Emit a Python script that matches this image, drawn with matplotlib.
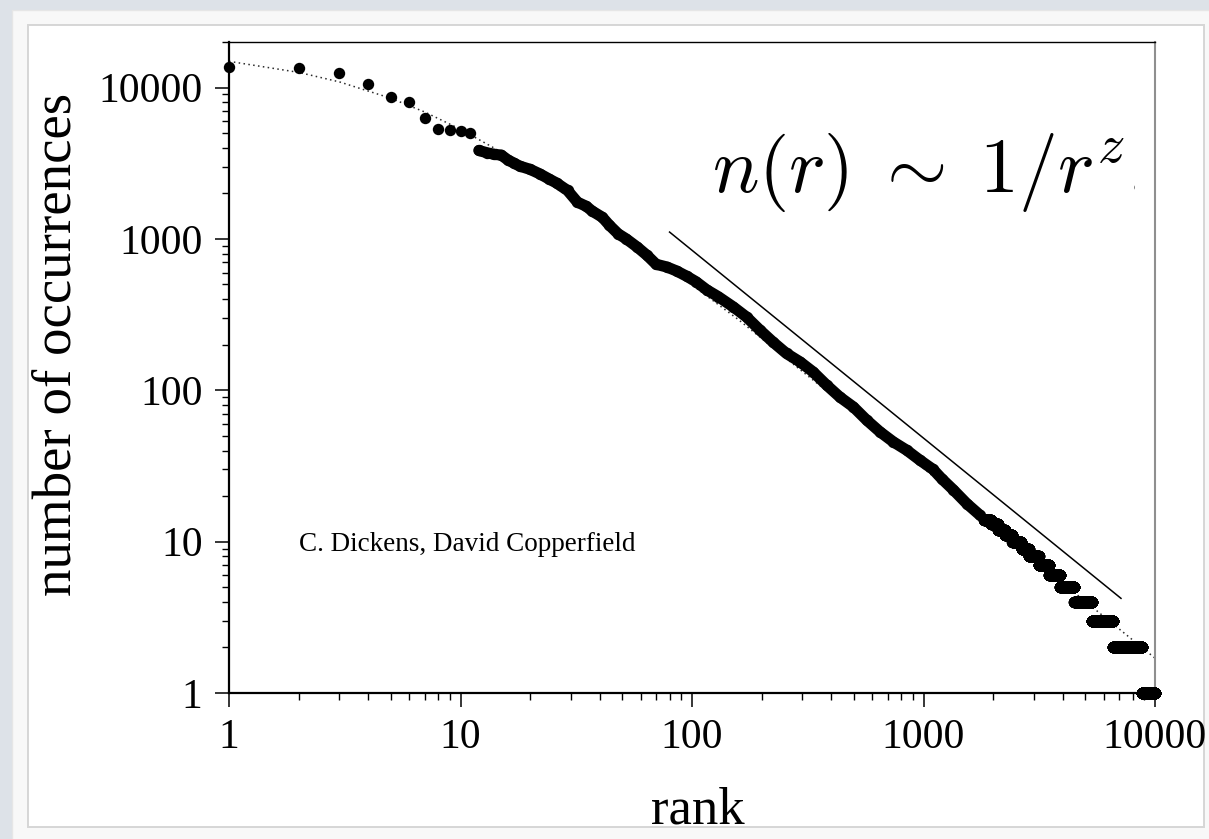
import numpy as np
import matplotlib
matplotlib.use("Agg")
import matplotlib.pyplot as plt
from matplotlib.patches import Rectangle
from matplotlib.transforms import Bbox
from matplotlib.ticker import FixedLocator, FixedFormatter, NullFormatter

# --- word frequencies by rank, C. Dickens, "David Copperfield" ---
# most frequent words, one entry per rank
head_ranks = [1, 2, 3, 4, 5, 6, 7, 8, 9, 10, 11]
head_counts = [13700, 13500, 12400, 10600, 8700, 8000, 6300, 5350, 5250, 5200, 4990]

# middle of the distribution, sampled along the rank axis
body_ranks = [12, 13, 14, 15, 16, 17, 18, 20, 22, 24, 26, 29, 32, 35, 37, 41, 44,
              48, 52, 58, 64, 70, 78, 86, 95, 104, 116, 130, 151, 172, 197, 224,
              256, 293, 334, 382, 436, 498, 569, 649, 741, 846, 966, 1100, 1200,
              1345, 1540, 1750]
body_counts = [3840, 3710, 3620, 3580, 3330, 3170, 3030, 2880, 2690, 2500, 2340,
               2090, 1750, 1640, 1530, 1390, 1230, 1080, 1000, 883, 778, 680, 652,
               613, 566, 522, 460, 415, 355, 305, 249, 208, 175, 154, 132, 108, 90,
               77.6, 63.4, 53.1, 45.6, 40.2, 34.5, 30, 26, 22, 17.8, 15]

# rare words: all words with the same count occupy a run of consecutive ranks
tail_counts = [14, 13, 12, 11, 10, 9, 8, 7, 6, 5, 4, 3, 2, 1]
tail_first_rank = [1830, 1960, 2100, 2251, 2421, 2651, 2851, 3146, 3491, 3896,
                   4486, 5341, 6601, 8771]
last_rank = 10000

# smooth fitted curve (dotted)
fit_ranks = [1, 2, 3, 5, 7, 10, 15, 20, 30, 50, 100, 160, 300, 1000, 3000, 10000]
fit_counts = [14900, 12600, 10900, 8500, 6900, 5300, 3750, 2850, 1850, 1050, 497,
              290, 133, 30.5, 7.6, 1.7]

# reference power law n(r) ~ 1/r^z
guide_ranks = [80, 7130]
guide_counts = [1110, 4.22]

decades = [1, 10, 100, 1000, 10000]
decade_labels = ["1", "10", "100", "1000", "10000"]

# ------------------------------------------------------------------
W, H = 1209, 839
fig = plt.figure(figsize=(W / 100, H / 100), dpi=100)
fig.patch.set_facecolor("#dde2e8")

def px_rect(x0, y0, x1, y1, **kw):
    r = Rectangle((x0 / W, 1 - y1 / H), (x1 - x0) / W, (y1 - y0) / H,
                  transform=fig.transFigure, zorder=-10, **kw)
    fig.patches.append(r)

px_rect(12, 10, W + 5, H + 5, facecolor="#f8f8f8", edgecolor="#e6e6e6", lw=1.0)
px_rect(28, 25, 1204, 827, facecolor="white", edgecolor="#d6d6d6", lw=1.4)

ax = fig.add_axes([229 / W, 1 - 693 / H, (1155 - 229) / W, (693 - 42) / H])
ax.set_facecolor("white")
ax.set_xscale("log")
ax.set_yscale("log")
ax.set_xlim(1, 10000)
ax.set_ylim(1, 20000)

serif = ["Liberation Serif", "DejaVu Serif"]

# fitted curve
ax.plot(fit_ranks, fit_counts, linestyle=(0, (1, 2.2)), color="#2a2a2a", lw=1.1,
        zorder=2)

# guide line
ax.plot(guide_ranks, guide_counts, color="black", lw=1.1, zorder=2)

ms = 8.2
# head points
ax.plot(head_ranks, head_counts, "o", ms=ms, color="black", mew=0, zorder=3,
        clip_on=False)
# body: samples joined into a continuous band of the marker width
ax.plot(body_ranks, body_counts, "-", lw=ms * 0.98, color="black",
        solid_capstyle="round", solid_joinstyle="round", zorder=3)
ax.plot(body_ranks, body_counts, "o", ms=ms, color="black", mew=0, zorder=3)
# tail runs
ends = tail_first_rank[1:] + [last_rank + 1]
for c, a, b in zip(tail_counts, tail_first_rank, ends):
    r = np.arange(a, b)
    ax.plot(r, np.full(r.size, c), "o", ms=ms, color="black", mew=0, zorder=3,
            clip_on=False)

# axes styling
for side in ("left", "bottom"):
    ax.spines[side].set_linewidth(1.6)
    ax.spines[side].set_color("black")
ax.spines["top"].set_linewidth(1.0)
ax.spines["top"].set_color("black")
ax.spines["right"].set_linewidth(1.5)
ax.spines["right"].set_color("#8f8f8f")

minor = [m * d for d in [1, 10, 100, 1000] for m in range(2, 10)]
ax.xaxis.set_major_locator(FixedLocator(decades))
ax.xaxis.set_major_formatter(FixedFormatter(decade_labels))
ax.xaxis.set_minor_locator(FixedLocator(minor))
ax.xaxis.set_minor_formatter(NullFormatter())
ax.yaxis.set_major_locator(FixedLocator(decades))
ax.yaxis.set_major_formatter(FixedFormatter(decade_labels))
ax.yaxis.set_minor_locator(FixedLocator(minor + [20000]))
ax.yaxis.set_minor_formatter(NullFormatter())

ax.tick_params(which="major", direction="out", length=10, width=1.1,
               labelsize=30, pad=8, colors="black")
ax.tick_params(which="minor", direction="out", length=5, width=1.0)
ax.tick_params(axis="y", which="major", pad=9)
for lbl in ax.get_xticklabels() + ax.get_yticklabels():
    lbl.set_fontfamily(serif)

# labels
fig.text(698 / W, 1 - 823 / H, "rank", fontsize=38, family=serif,
         ha="center", va="baseline")
fig.text(57 / W, 1 - 344 / H, "number of occurrences", fontsize=39.5,
         family=serif, rotation=90, ha="center", va="center")

fig.text(299 / W, 1 - 551 / H, "C. Dickens, David Copperfield", fontsize=19.5,
         family=serif, ha="left", va="baseline")

plt.rcParams["mathtext.fontset"] = "cm"
law = fig.text(712 / W, 1 - 192 / H, r"$n(r)\;\sim\;1/r^{z},$", fontsize=56,
               ha="left", va="baseline")
law.set_clip_box(Bbox([[0, 0], [1135, H]]))
law.set_clip_on(True)

fig.savefig("out.png", dpi=100, facecolor=fig.get_facecolor())
